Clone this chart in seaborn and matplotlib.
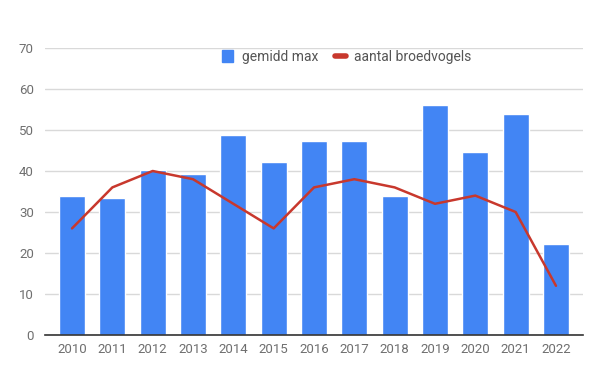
import numpy as np
import pandas as pd
import matplotlib
matplotlib.use("Agg")
import matplotlib.pyplot as plt
import seaborn as sns
from matplotlib.patches import Patch
from matplotlib.lines import Line2D

years = [str(y) for y in range(2010, 2023)]
gemidd_max = [33.8, 33.3, 40.2, 39.2, 48.8, 42.2, 47.3, 47.3, 33.8, 56.1, 44.6, 53.9, 22.3]
broedvogels = [26, 36, 40, 38, 32, 26, 36, 38, 36, 32, 34, 30, 12]

blue = "#4285F4"
red = "#C8382D"

sns.set_style("white")
plt.rcParams['font.family'] = ['Roboto', 'DejaVu Sans']

df = pd.DataFrame({"jaar": years, "gemidd max": gemidd_max, "aantal broedvogels": broedvogels})

fig = plt.figure(figsize=(6.02, 3.72), dpi=100)
ax = fig.add_axes([45 / 602, 1 - 335 / 372, 538 / 602, 287 / 372])

sns.barplot(data=df, x="jaar", y="gemidd max", color=blue, width=0.64,
            saturation=1, ax=ax, zorder=2)
sns.lineplot(x=np.arange(len(years)), y=df["aantal broedvogels"], color=red,
             linewidth=1.8, ax=ax, zorder=3)

ax.set_ylim(0, 70)
ax.set_xlim(-0.67, len(years) - 0.33)
ax.set_yticks(range(0, 71, 10))
ax.grid(axis="y", color="#d9d9d9", linewidth=1, zorder=0)
ax.set_axisbelow(True)
for s in ["top", "right", "left"]:
    ax.spines[s].set_visible(False)
ax.spines["bottom"].set_color("#333333")
ax.spines["bottom"].set_linewidth(1.2)
ax.spines["bottom"].set_zorder(4)
ax.set_xlabel("")
ax.set_ylabel("")
ax.tick_params(axis="both", length=0, labelsize=9.5, colors="#6f6f6f")
ax.tick_params(axis="x", pad=6)
ax.tick_params(axis="y", pad=8)

handles = [Patch(facecolor=blue, edgecolor=blue),
           Line2D([0], [0], color=red, linewidth=4)]
fig.legend(handles, ["gemidd max", "aantal broedvogels"], loc="center",
           bbox_to_anchor=(347 / 602, 1 - 57 / 372), ncol=2, frameon=False,
           fontsize=10, handlelength=0.8, handleheight=0.9, handletextpad=0.6,
           columnspacing=1.2, labelcolor="#555555")

fig.savefig("out.png", dpi=100)
